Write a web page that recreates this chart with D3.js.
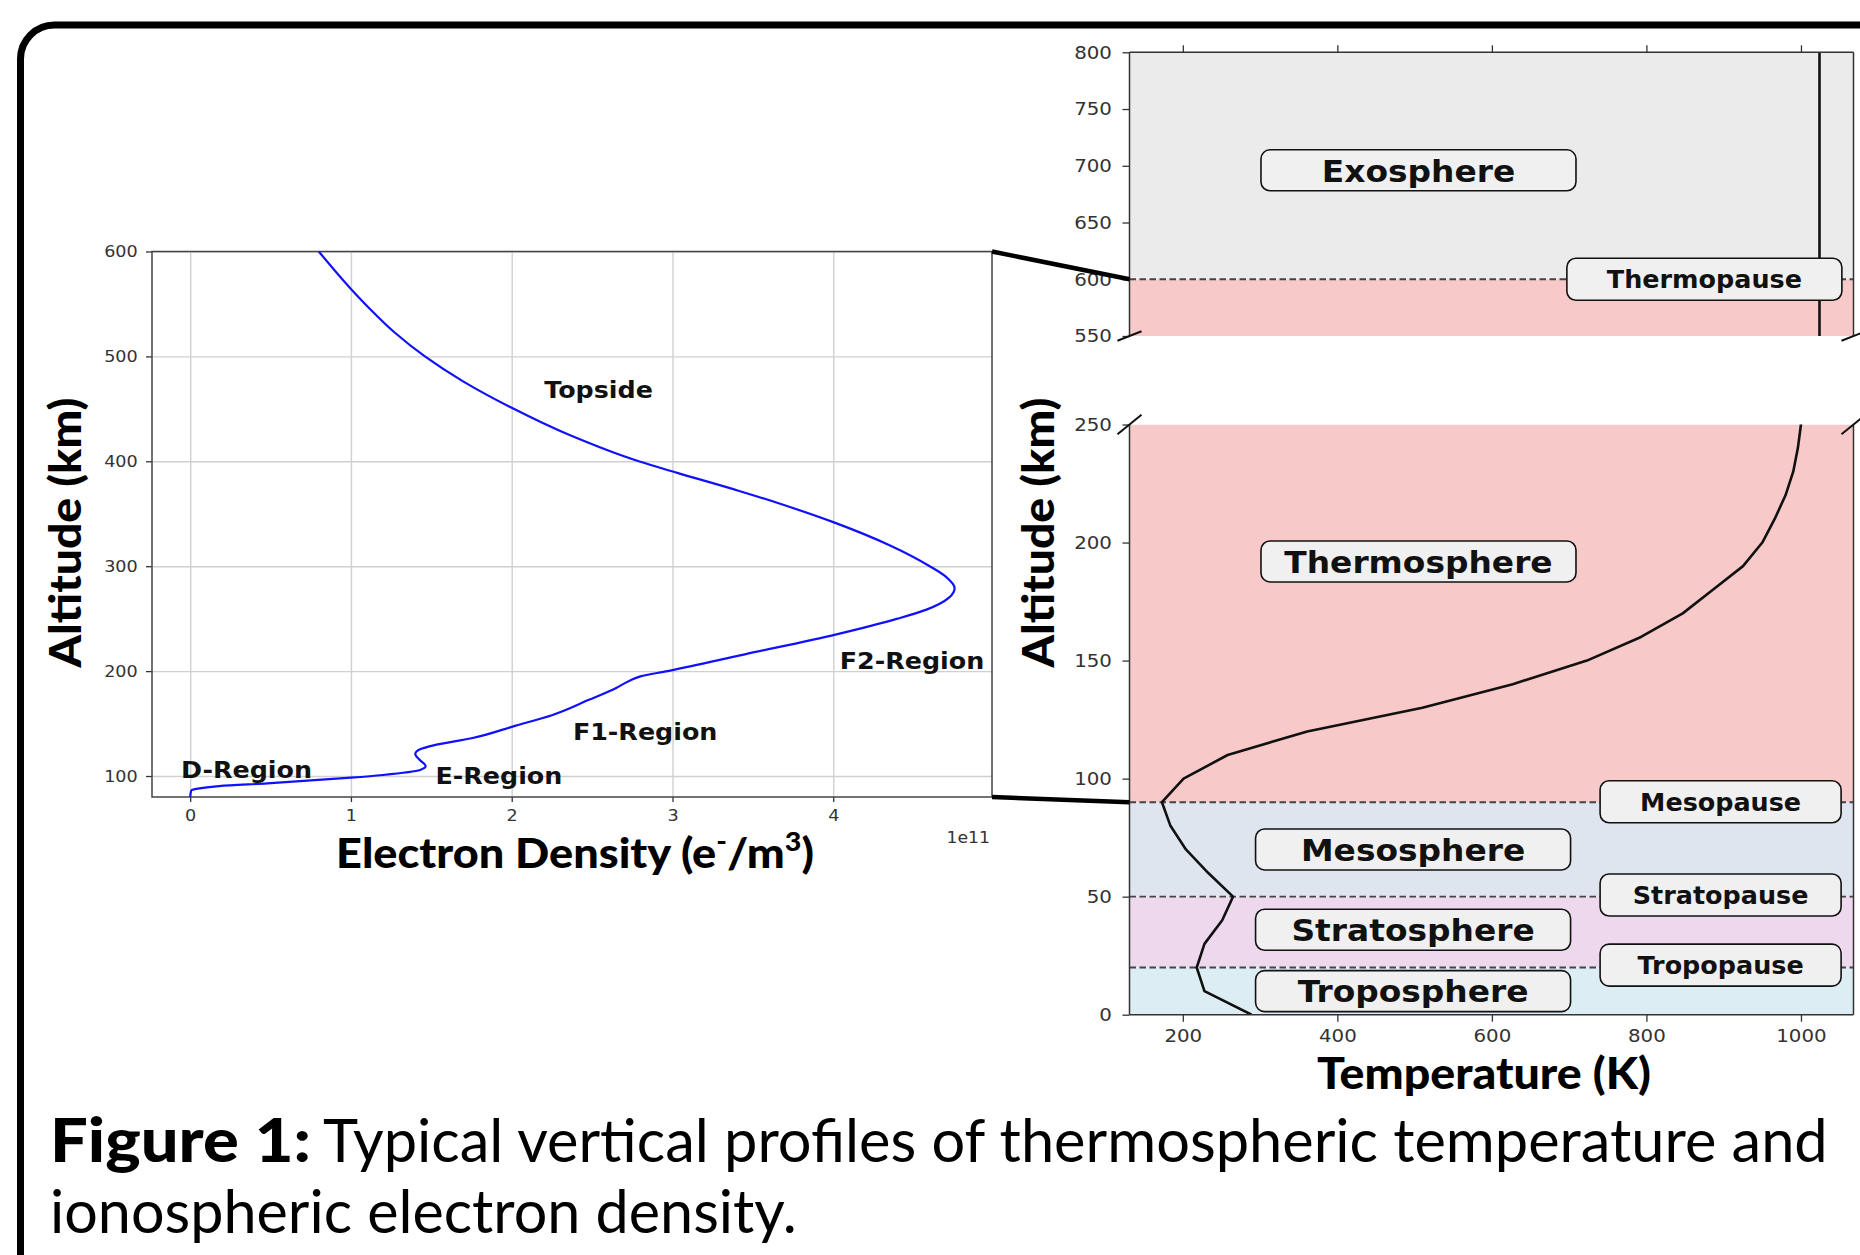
<!DOCTYPE html>
<html>
<head>
<meta charset="utf-8">
<script src="https://cdn.jsdelivr.net/npm/d3@7"></script>
<style>
  body { margin: 0; background: #fff; }
  svg { display: block; }
</style>
</head>
<body>
<svg id="fig" width="1860" height="1255"></svg>
<script>
// ---- data ----
// electron density profile (altitude km, density in 1e11 e-/m3)
const densityAlt = [80, 86, 87.5, 90.4, 93, 98.4, 101, 105.7, 109.5, 115, 121, 125.5, 129.5, 136, 147.8, 158, 172.6, 184, 190.6, 195, 200, 216, 235, 250, 258.6, 270, 279, 290, 300, 320, 342, 360, 372, 389, 400, 425, 451, 476, 500, 523, 545, 566, 600];
const densityVal = [0, 0.006, 0.03, 0.18, 0.48, 1.0, 1.2, 1.43, 1.465, 1.43, 1.40, 1.43, 1.52, 1.75, 2.02, 2.25, 2.48, 2.65, 2.73, 2.8, 2.97, 3.45, 4.02, 4.4, 4.58, 4.72, 4.755, 4.7, 4.6, 4.35, 4.0, 3.66, 3.41, 3.03, 2.79, 2.36, 2.0, 1.70, 1.46, 1.27, 1.12, 0.99, 0.80];
const densityTicks = [0, 1, 2, 3, 4];
const densityAltTicks = [100, 200, 300, 400, 500, 600];

const regionNames = ["D-Region", "E-Region", "F1-Region", "F2-Region", "Topside"];
const regionDensity = [0.35, 1.92, 2.83, 4.49, 2.54];
const regionAlt = [98.3, 92.6, 134.8, 201.6, 460.8];

// temperature profile (altitude km, temperature K)
const tempAlt = [0, 10, 20, 30, 40, 50, 60, 70, 80, 90, 100, 110, 120, 130, 140, 150, 160, 170, 180, 190, 200, 210, 220, 230, 240, 250, 300, 350, 400, 450, 500, 550, 600, 650, 700, 750, 800];
const tempK = [289, 228, 218, 228, 251, 265, 233, 204, 184, 173, 201, 258, 361, 510, 627, 723, 793, 847, 886, 925, 950, 966, 980, 990, 996, 1000, 1012, 1018, 1021, 1023, 1024, 1024, 1024, 1024, 1024, 1024, 1024];
const tempTicks = [200, 400, 600, 800, 1000];
const upperAltTicks = [550, 600, 650, 700, 750, 800];
const lowerAltTicks = [0, 50, 100, 150, 200, 250];

const layerNames = ["Troposphere", "Stratosphere", "Mesosphere", "Thermosphere", "Exosphere"];
const layerBottom = [0, 20, 50, 90, 600];
const layerTop = [20, 50, 90, 600, 800];
const layerLabelAlt = [10, 36, 70, 192, 696];
const layerLabelTemp = [498, 498, 498, 505, 505];

const boundaryNames = ["Tropopause", "Stratopause", "Mesopause", "Thermopause"];
const boundaryAlt = [20, 50, 90, 600];
const boundaryLabelAlt = [21, 50.7, 90.2, 600];
const boundaryLabelTemp = [896, 896, 896, 875];

// ---- drawing ----
const svg = d3.select("#fig");
const LABEL_FONT = "'DejaVu Sans', sans-serif";
const TITLE_FONT = "Lato, 'Open Sans', sans-serif";

// stretch a text horizontally so it is `width` wide
function fitText(t, x, y, width, rotate) {
  const w = t.node().getBBox().width;
  const s = width / w;
  t.attr("transform", `translate(${x},${y})${rotate ? " rotate(-90)" : ""} scale(${s},1)`);
}

// rounded outer frame
svg.append("rect")
  .attr("x", 20.5).attr("y", 25)
  .attr("width", 1900).attr("height", 1300)
  .attr("rx", 34)
  .attr("fill", "none").attr("stroke", "#000").attr("stroke-width", 7);

// ===== left chart: electron density =====
const L = { x0: 152, x1: 992, y0: 251.5, y1: 797 };
const xD = d3.scaleLinear().domain([-0.2375, 4.9875]).range([L.x0, L.x1]);
const yD = d3.scaleLinear().domain([80, 600]).range([L.y1, L.y0]);
const gL = svg.append("g");

// grid
gL.append("g")
  .attr("transform", `translate(0,${L.y1})`)
  .call(d3.axisBottom(xD).tickValues(densityTicks).tickSize(-(L.y1 - L.y0)).tickFormat(""))
  .call(g => g.select(".domain").remove())
  .call(g => g.selectAll("line").attr("stroke", "#d0d0d0").attr("stroke-width", 1.4));
gL.append("g")
  .attr("transform", `translate(${L.x0},0)`)
  .call(d3.axisLeft(yD).tickValues(densityAltTicks).tickSize(-(L.x1 - L.x0)).tickFormat(""))
  .call(g => g.select(".domain").remove())
  .call(g => g.selectAll("line").attr("stroke", "#d0d0d0").attr("stroke-width", 1.4));

// axes
function styleAxis(g, size, sx) {
  g.select(".domain").remove();
  g.attr("font-family", LABEL_FONT).attr("font-size", size).attr("color", "#333");
  g.selectAll(".tick line").attr("stroke-width", 1.3);
  g.selectAll(".tick text").attr("transform", `scale(${sx},1)`);
}
const intFmt = d3.format("d");
gL.append("g")
  .attr("transform", `translate(0,${L.y1})`)
  .call(d3.axisBottom(xD).tickValues(densityTicks).tickFormat(intFmt).tickSize(5).tickPadding(8))
  .call(g => styleAxis(g, 16, 1.1));
gL.append("g")
  .attr("transform", `translate(${L.x0},0)`)
  .call(d3.axisLeft(yD).tickValues(densityAltTicks).tickFormat(intFmt).tickSize(6).tickPadding(7))
  .call(g => styleAxis(g, 16, 1.1));

// spines
gL.append("rect")
  .attr("x", L.x0).attr("y", L.y0)
  .attr("width", L.x1 - L.x0).attr("height", L.y1 - L.y0)
  .attr("fill", "none").attr("stroke", "#444").attr("stroke-width", 1.5);

// profile
const densityData = densityAlt.map((a, i) => ({ a, v: densityVal[i] }));
gL.append("path")
  .datum(densityData)
  .attr("fill", "none").attr("stroke", "#1010ff").attr("stroke-width", 2.2)
  .attr("d", d3.line().x(d => xD(d.v)).y(d => yD(d.a)).curve(d3.curveMonotoneY));

// region labels
regionNames.forEach((name, i) => {
  gL.append("text")
    .attr("transform", `translate(${xD(regionDensity[i])},${yD(regionAlt[i])}) scale(1.08,1)`)
    .attr("text-anchor", "middle")
    .attr("font-family", LABEL_FONT).attr("font-weight", "bold").attr("font-size", 23.5)
    .attr("fill", "#111")
    .text(name);
});

// offset text
gL.append("text")
  .attr("transform", `translate(${L.x1 - 2},${843}) scale(1.08,1)`)
  .attr("text-anchor", "end")
  .attr("font-family", LABEL_FONT).attr("font-size", 16).attr("fill", "#333")
  .text("1e11");

// axis titles
const ylabL = gL.append("text")
  .attr("text-anchor", "middle")
  .attr("font-family", TITLE_FONT).attr("font-weight", 900).attr("font-size", 44)
  .text("Altitude (km)");
fitText(ylabL, 81, 532.5, 271, true);

const xlabL = gL.append("text")
  .attr("text-anchor", "middle")
  .attr("font-family", TITLE_FONT).attr("font-weight", 900).attr("font-size", 41);
xlabL.append("tspan").text("Electron Density (e");
xlabL.append("tspan").attr("font-size", 26).attr("dy", -17).text("-");
xlabL.append("tspan").attr("dy", 17).text("/m");
xlabL.append("tspan").attr("font-size", 26).attr("dy", -17).text("3");
xlabL.append("tspan").attr("dy", 17).text(")");
fitText(xlabL, 575, 868, 478, false);

// ===== right chart: temperature (broken axis) =====
const R = { x0: 1129.5, x1: 1853.5, topY0: 52.3, topY1: 336, botY0: 424.5, botY1: 1014.7 };
const xT = d3.scaleLinear().domain([131, 1068]).range([R.x0, R.x1]);
const yTop = d3.scaleLinear().domain([550, 800]).range([R.topY1, R.topY0]);
const yBot = d3.scaleLinear().domain([0, 250]).range([R.botY1, R.botY0]);
const segments = [
  { id: "top", y: yTop, y0: R.topY0, y1: R.topY1 },
  { id: "bot", y: yBot, y0: R.botY0, y1: R.botY1 }
];
const bandColor = d3.scaleOrdinal()
  .domain(layerNames)
  .range(["#dcedf4", "#eed8ee", "#dfe5ef", "#f7c9c9", "#ebebeb"]);

const defs = svg.append("defs");
const tempData = tempAlt.map((a, i) => ({ a, t: tempK[i] }));
const gR = svg.append("g");

segments.forEach(seg => {
  defs.append("clipPath").attr("id", "clip-" + seg.id)
    .append("rect")
    .attr("x", R.x0).attr("y", seg.y0)
    .attr("width", R.x1 - R.x0).attr("height", seg.y1 - seg.y0);

  const yc = seg.y.copy().clamp(true);
  const g = gR.append("g").attr("clip-path", `url(#clip-${seg.id})`);

  // atmospheric layers
  g.selectAll("rect.band")
    .data(layerNames)
    .join("rect")
    .attr("class", "band")
    .attr("x", R.x0).attr("width", R.x1 - R.x0)
    .attr("y", (d, i) => yc(layerTop[i]))
    .attr("height", (d, i) => yc(layerBottom[i]) - yc(layerTop[i]))
    .attr("fill", d => bandColor(d));

  // boundaries
  g.selectAll("line.bound")
    .data(boundaryAlt.filter(a => a >= seg.y.domain()[0] && a <= seg.y.domain()[1]))
    .join("line")
    .attr("class", "bound")
    .attr("x1", R.x0).attr("x2", R.x1)
    .attr("y1", d => seg.y(d)).attr("y2", d => seg.y(d))
    .attr("stroke", "#444").attr("stroke-width", 1.8)
    .attr("stroke-dasharray", "6.5,3.5");

  // temperature profile
  g.append("path")
    .datum(tempData)
    .attr("fill", "none").attr("stroke", "#111").attr("stroke-width", 2.6)
    .attr("stroke-linejoin", "round")
    .attr("d", d3.line().x(d => xT(d.t)).y(d => seg.y(d.a)));

  // spines
  [R.x0, R.x1].forEach(x => {
    gR.append("line")
      .attr("x1", x).attr("x2", x).attr("y1", seg.y0).attr("y2", seg.y1)
      .attr("stroke", "#333").attr("stroke-width", 1.5);
  });
  const yEdge = seg.id === "top" ? seg.y0 : seg.y1;
  gR.append("line")
    .attr("x1", R.x0).attr("x2", R.x1).attr("y1", yEdge).attr("y2", yEdge)
    .attr("stroke", "#333").attr("stroke-width", 1.5);

  // y axis
  gR.append("g")
    .attr("transform", `translate(${R.x0},0)`)
    .call(d3.axisLeft(seg.y).tickValues(seg.id === "top" ? upperAltTicks : lowerAltTicks).tickFormat(intFmt).tickSize(7).tickPadding(9))
    .call(g => styleAxis(g, 18, 1.1));

  // broken-axis marks
  const d = 0.0166;
  const dx = d * (R.x1 - R.x0), dy = d * (seg.y1 - seg.y0);
  const yb = seg.id === "top" ? seg.y1 : seg.y0;
  [R.x0, R.x1].forEach(x => {
    gR.append("line")
      .attr("x1", x - dx).attr("y1", yb + dy)
      .attr("x2", x + dx).attr("y2", yb - dy)
      .attr("stroke", "#111").attr("stroke-width", 2);
  });
});

// x axes
gR.append("g")
  .attr("transform", `translate(0,${R.botY1})`)
  .call(d3.axisBottom(xT).tickValues(tempTicks).tickFormat(intFmt).tickSize(7).tickPadding(8))
  .call(g => styleAxis(g, 18, 1.1));
gR.append("g")
  .attr("transform", `translate(0,${R.topY0})`)
  .call(d3.axisTop(xT).tickValues(tempTicks).tickSize(7).tickFormat(""))
  .call(g => styleAxis(g, 18, 1.1));

// label boxes
function boxLabel(seg, t, a, name, w, h, size, sx) {
  const cx = xT(t), cy = seg(a);
  gR.append("rect")
    .attr("x", cx - w / 2).attr("y", cy - h / 2)
    .attr("width", w).attr("height", h).attr("rx", 9)
    .attr("fill", "#f0f0f0").attr("stroke", "#111").attr("stroke-width", 1.6);
  gR.append("text")
    .attr("transform", `translate(${cx},${cy + 0.3645 * size}) scale(${sx},1)`)
    .attr("text-anchor", "middle")
    .attr("font-family", LABEL_FONT).attr("font-weight", "bold").attr("font-size", size)
    .attr("fill", "#111")
    .text(name);
}
layerNames.forEach((name, i) => {
  const seg = layerLabelAlt[i] > 400 ? yTop : yBot;
  boxLabel(seg, layerLabelTemp[i], layerLabelAlt[i], name, 315, 41, 31, 1.06);
});
boundaryNames.forEach((name, i) => {
  const seg = boundaryLabelAlt[i] > 400 ? yTop : yBot;
  boxLabel(seg, boundaryLabelTemp[i], boundaryLabelAlt[i], name, name === "Thermopause" ? 275 : 241, 42, 24, 1.06);
});

// axis titles
const ylabR = gR.append("text")
  .attr("text-anchor", "middle")
  .attr("font-family", TITLE_FONT).attr("font-weight", 900).attr("font-size", 44)
  .text("Altitude (km)");
fitText(ylabR, 1054, 532.5, 271, true);

const xlabR = gR.append("text")
  .attr("text-anchor", "middle")
  .attr("font-family", TITLE_FONT).attr("font-weight", 900).attr("font-size", 44)
  .text("Temperature (K)");
fitText(xlabR, 1484, 1089, 334, false);

// ===== zoom connectors =====
const connectors = [
  { from: [xD(4.9875), yD(600)], to: [R.x0, yTop(600)] },
  { from: [xD(4.9875), yD(80)], to: [R.x0, yBot(90)] }
];
svg.selectAll("line.conn")
  .data(connectors)
  .join("line")
  .attr("class", "conn")
  .attr("x1", d => d.from[0]).attr("y1", d => d.from[1])
  .attr("x2", d => d.to[0]).attr("y2", d => d.to[1])
  .attr("stroke", "#000").attr("stroke-width", 4.5);

// ===== caption =====
const cap1 = svg.append("text")
  .attr("font-family", TITLE_FONT).attr("font-weight", 900).attr("font-size", 60)
  .text("Figure 1:");
fitText(cap1, 50, 1161.7, 261, false);
const cap2 = svg.append("text")
  .attr("font-family", TITLE_FONT).attr("font-weight", 400).attr("font-size", 60)
  .text("Typical vertical profiles of thermospheric temperature and");
fitText(cap2, 323, 1161.7, 1505, false);
const cap3 = svg.append("text")
  .attr("font-family", TITLE_FONT).attr("font-weight", 400).attr("font-size", 60)
  .text("ionospheric electron density.");
fitText(cap3, 50, 1233, 747, false);
</script>
</body>
</html>
